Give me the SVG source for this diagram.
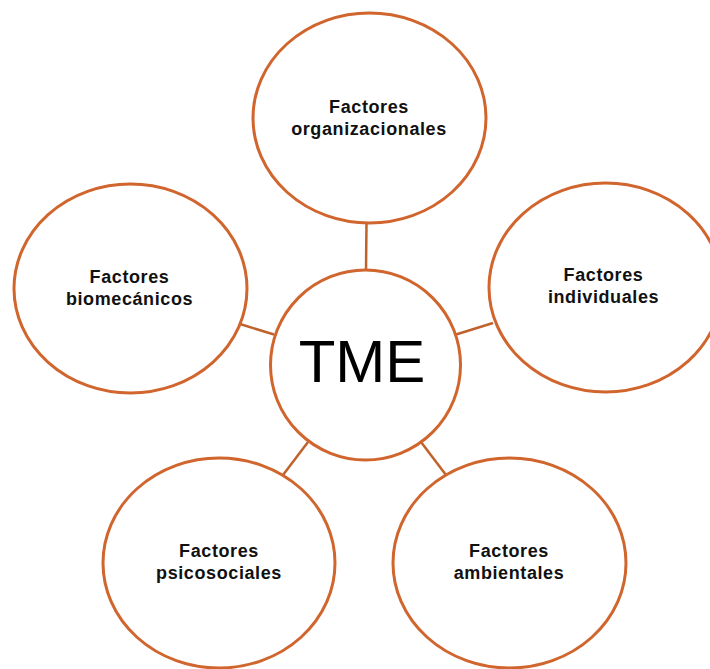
<svg xmlns="http://www.w3.org/2000/svg" width="710" height="669" viewBox="0 0 710 669">
<style>
.node{fill:#FFFFFF;stroke:#D0652E;stroke-width:3}
.conn{stroke:#C0622B;stroke-width:2.5;fill:none}
.lbl{font-family:"Liberation Sans",Arial,sans-serif;font-weight:bold;font-size:18px;fill:#111111;text-anchor:middle;letter-spacing:0.6px}
.main{font-family:"Liberation Sans",Arial,sans-serif;font-size:60px;fill:#000000;text-anchor:middle}
</style>
<rect width="710" height="669" fill="#FFFFFF"/>
<g id="connectors">
<line class="conn" x1="366.5" y1="223" x2="366" y2="271"/>
<line class="conn" x1="240" y1="324" x2="274" y2="334.5"/>
<line class="conn" x1="456" y1="334.5" x2="493" y2="323"/>
<line class="conn" x1="283" y1="475" x2="308" y2="442"/>
<line class="conn" x1="421" y1="442" x2="446" y2="475"/>
</g>
<g id="tme">
<circle class="node" cx="365.5" cy="365" r="95"/>
<text class="main" x="362" y="382">TME</text>
</g>
<g id="organizacionales">
<ellipse class="node" cx="369.5" cy="118" rx="116.5" ry="105"/>
<text class="lbl" x="369" y="113">Factores</text>
<text class="lbl" x="369" y="135">organizacionales</text>
</g>
<g id="biomecanicos">
<ellipse class="node" cx="130.5" cy="288.5" rx="116.5" ry="104.5"/>
<text class="lbl" x="129.5" y="283">Factores</text>
<text class="lbl" x="129.5" y="305">biomecánicos</text>
</g>
<g id="individuales">
<ellipse class="node" cx="605.5" cy="287.5" rx="116.5" ry="104.5"/>
<text class="lbl" x="603.5" y="281">Factores</text>
<text class="lbl" x="603.5" y="303">individuales</text>
</g>
<g id="psicosociales">
<ellipse class="node" cx="219" cy="563" rx="116" ry="105"/>
<text class="lbl" x="219" y="557">Factores</text>
<text class="lbl" x="219" y="579">psicosociales</text>
</g>
<g id="ambientales">
<ellipse class="node" cx="509.5" cy="563" rx="116.5" ry="105"/>
<text class="lbl" x="509" y="557">Factores</text>
<text class="lbl" x="509" y="579">ambientales</text>
</g>
</svg>
